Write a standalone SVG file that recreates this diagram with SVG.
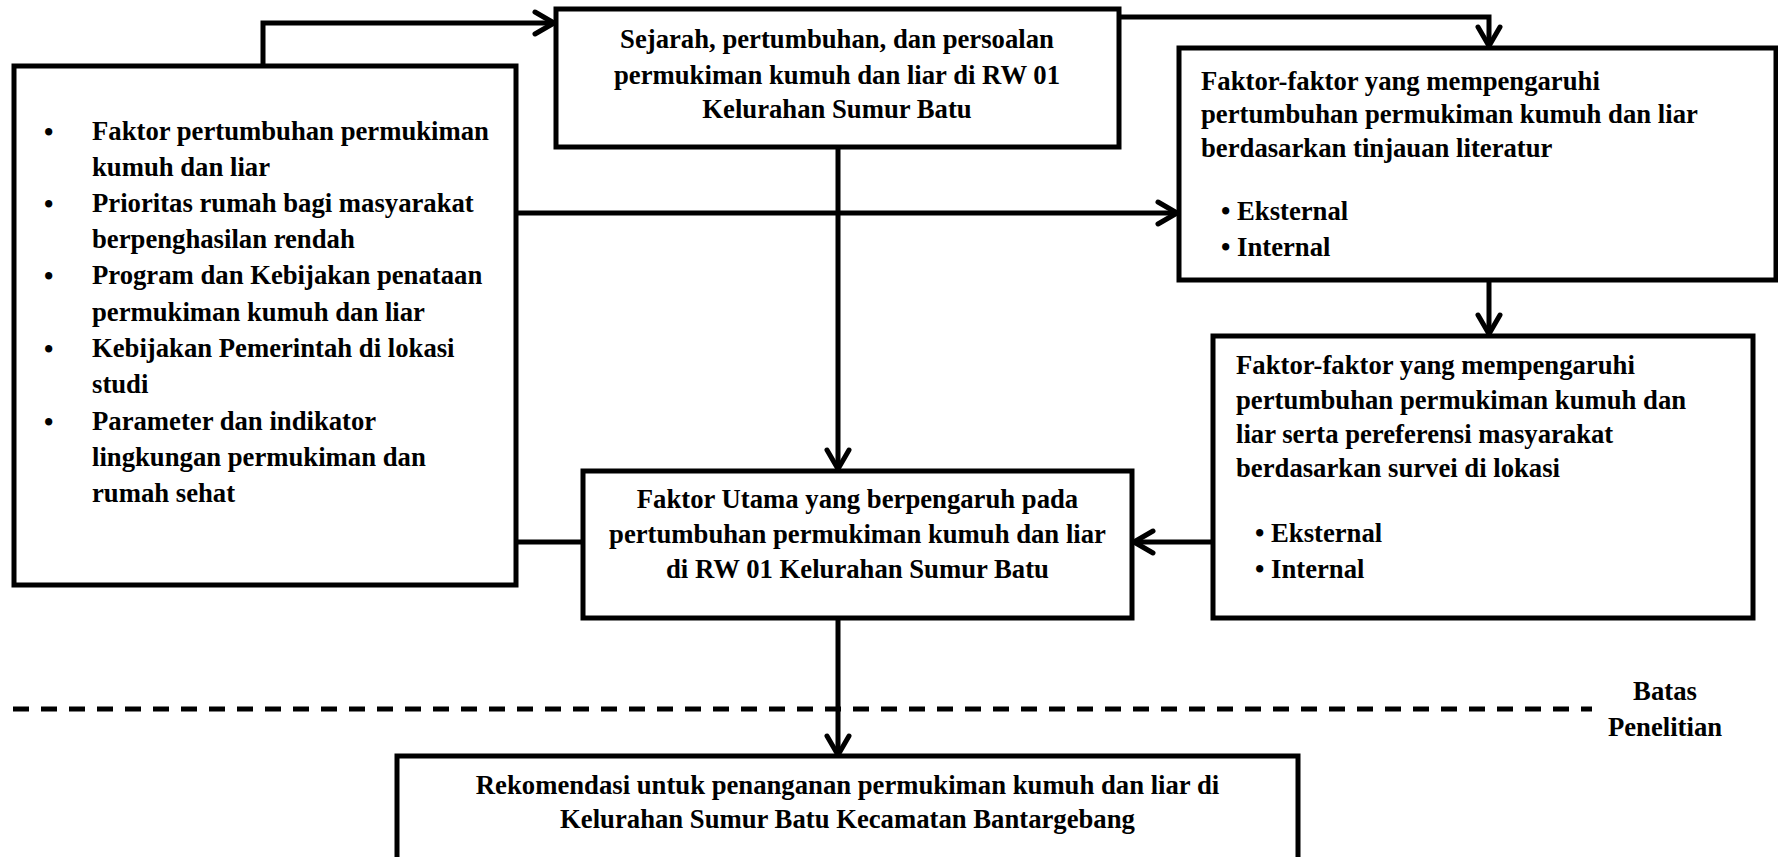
<svg xmlns="http://www.w3.org/2000/svg" width="1778" height="857" viewBox="0 0 1778 857">
<style>
.box{fill:#fff;stroke:#000;stroke-width:5}
.t{font-family:"Liberation Serif","Times New Roman",serif;font-weight:bold;font-size:26.7px;fill:#000}
.c{text-anchor:middle}
.ln{fill:none;stroke:#000;stroke-width:5}
.dash{fill:none;stroke:#000;stroke-width:5;stroke-dasharray:16 12}
</style>
<defs>
<marker id="arr" markerUnits="userSpaceOnUse" markerWidth="30" markerHeight="30" refX="24" refY="15" orient="auto">
<path d="M4,4 L23,15 L4,26" fill="none" stroke="#000" stroke-width="5" stroke-linecap="round" stroke-linejoin="round"/>
</marker>
</defs>
<g id="connectors">
<path class="ln" d="M263,66 V23 H555" marker-end="url(#arr)"/>
<path class="ln" d="M1119,17 H1489 V47" marker-end="url(#arr)"/>
<path class="ln" d="M516,213 H1178" marker-end="url(#arr)"/>
<path class="ln" d="M838,147 V470" marker-end="url(#arr)"/>
<path class="ln" d="M1489,280 V335" marker-end="url(#arr)"/>
<path class="ln" d="M1213,542 H1133" marker-end="url(#arr)"/>
<path class="ln" d="M516,542 H583"/>
<path class="ln" d="M838,618 V756" marker-end="url(#arr)"/>
<path class="dash" d="M13,709 H1592"/>
</g>
<g id="node-left">
<rect class="box" x="14" y="66" width="502" height="519"/>
<g class="t">
<text x="44" y="141">•</text><text x="92" y="140">Faktor pertumbuhan permukiman</text>
<text x="92" y="176">kumuh dan liar</text>
<text x="44" y="213">•</text><text x="92" y="212">Prioritas rumah bagi masyarakat</text>
<text x="92" y="248">berpenghasilan rendah</text>
<text x="44" y="285">•</text><text x="92" y="284">Program dan Kebijakan penataan</text>
<text x="92" y="321">permukiman kumuh dan liar</text>
<text x="44" y="358">•</text><text x="92" y="357">Kebijakan Pemerintah di lokasi</text>
<text x="92" y="393">studi</text>
<text x="44" y="431">•</text><text x="92" y="430">Parameter dan indikator</text>
<text x="92" y="466">lingkungan permukiman dan</text>
<text x="92" y="502">rumah sehat</text>
</g>
</g>
<g id="node-sejarah">
<rect class="box" x="556" y="9" width="563" height="138"/>
<g class="t c">
<text x="837" y="48">Sejarah, pertumbuhan, dan persoalan</text>
<text x="837" y="84">permukiman kumuh dan liar di RW 01</text>
<text x="837" y="118">Kelurahan Sumur Batu</text>
</g>
</g>
<g id="node-literatur">
<rect class="box" x="1179" y="48" width="597" height="232"/>
<g class="t">
<text x="1201" y="90">Faktor-faktor yang mempengaruhi</text>
<text x="1201" y="123">pertumbuhan permukiman kumuh dan liar</text>
<text x="1201" y="157">berdasarkan tinjauan literatur</text>
<text x="1221" y="220">• Eksternal</text>
<text x="1221" y="256">• Internal</text>
</g>
</g>
<g id="node-survei">
<rect class="box" x="1213" y="336" width="540" height="282"/>
<g class="t">
<text x="1236" y="374">Faktor-faktor yang mempengaruhi</text>
<text x="1236" y="409">pertumbuhan permukiman kumuh dan</text>
<text x="1236" y="443">liar serta pereferensi masyarakat</text>
<text x="1236" y="477">berdasarkan survei di lokasi</text>
<text x="1255" y="542">• Eksternal</text>
<text x="1255" y="578">• Internal</text>
</g>
</g>
<g id="node-utama">
<rect class="box" x="583" y="471" width="549" height="147"/>
<g class="t c">
<text x="857.5" y="508">Faktor Utama yang berpengaruh pada</text>
<text x="857.5" y="543">pertumbuhan permukiman kumuh dan liar</text>
<text x="857.5" y="578">di RW 01 Kelurahan Sumur Batu</text>
</g>
</g>
<g id="node-rekomendasi">
<rect class="box" x="397" y="756" width="901" height="110"/>
<g class="t c">
<text x="847.5" y="794">Rekomendasi untuk penanganan permukiman kumuh dan liar di</text>
<text x="847.5" y="828">Kelurahan Sumur Batu Kecamatan Bantargebang</text>
</g>
</g>
<g id="label-batas" class="t c">
<text x="1665" y="700">Batas</text>
<text x="1665" y="736">Penelitian</text>
</g>
</svg>
